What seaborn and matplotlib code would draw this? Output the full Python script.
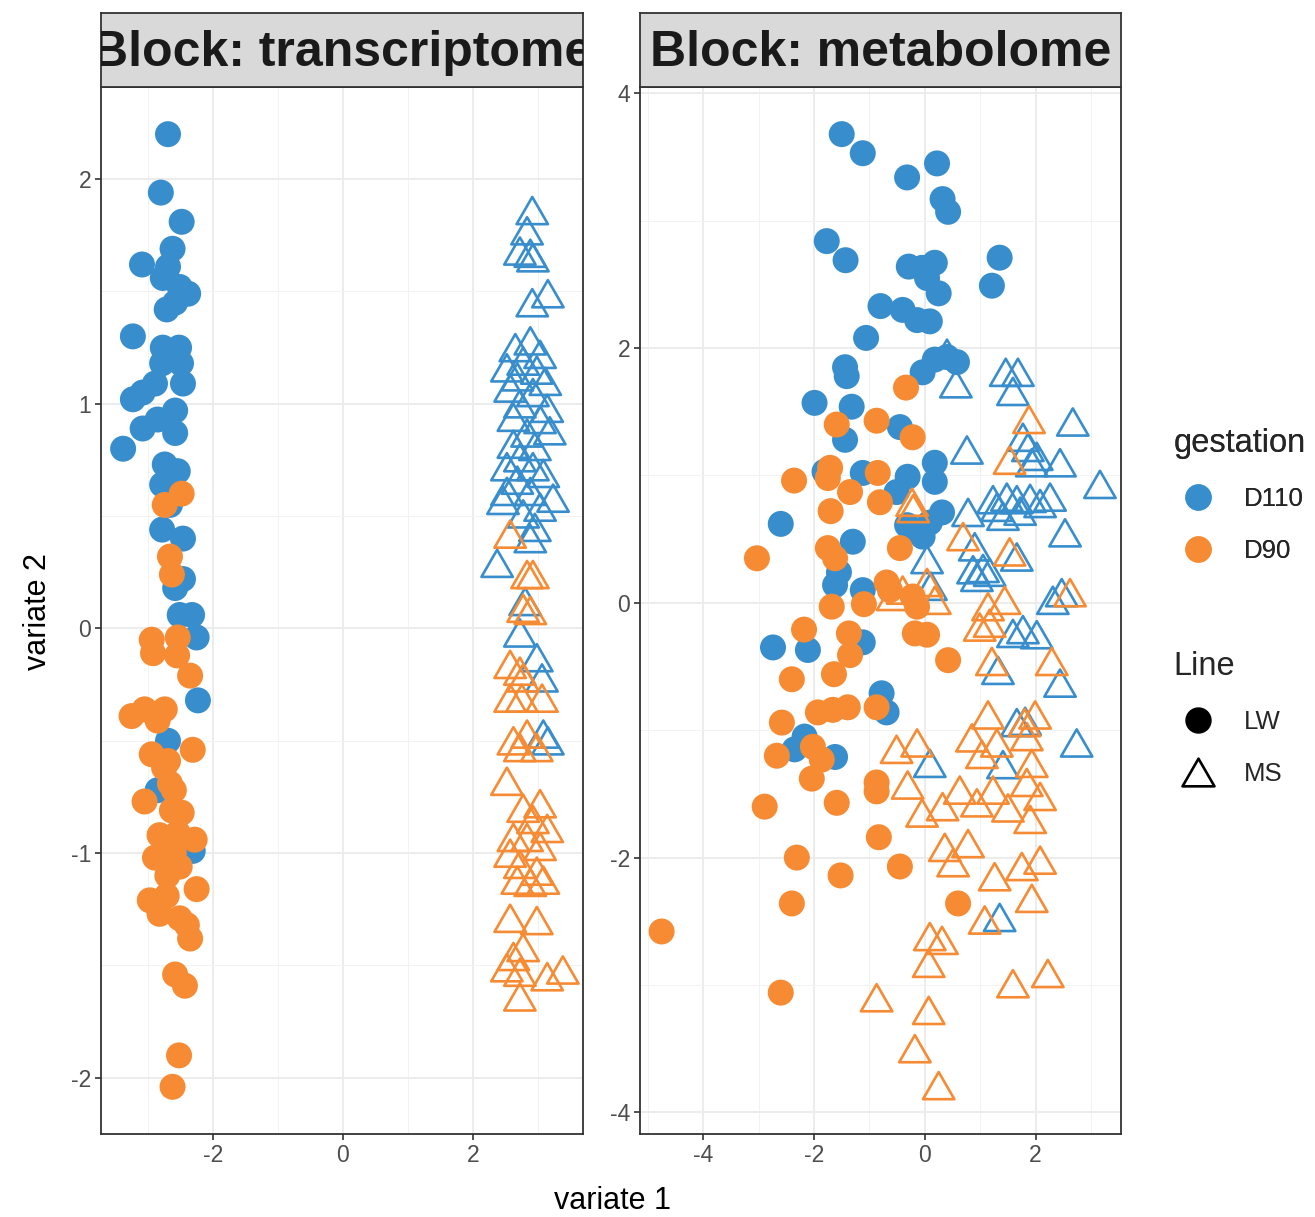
import numpy as np
import pandas as pd
import matplotlib
matplotlib.use("Agg")
import matplotlib.pyplot as plt
import seaborn as sns
from matplotlib.path import Path
from matplotlib.lines import Line2D

# ---------------- data (variate 1, variate 2) ----------------
# Block: transcriptome
tr_lw_d110 = [(-2.69, 2.20), (-2.80, 1.94), (-2.48, 1.81), (-2.62, 1.69), (-3.09, 1.62),
              (-2.69, 1.61), (-2.77, 1.56), (-2.38, 1.49), (-2.51, 1.52), (-2.71, 1.42),
              (-2.58, 1.45), (-3.23, 1.30), (-2.77, 1.25), (-2.52, 1.25), (-2.49, 1.18),
              (-2.78, 1.18), (-2.46, 1.09), (-2.89, 1.09), (-3.23, 1.02), (-3.08, 1.05),
              (-2.58, 0.97), (-3.08, 0.89), (-2.85, 0.93), (-2.58, 0.87), (-3.38, 0.80),
              (-2.74, 0.73), (-2.54, 0.70), (-2.78, 0.64), (-2.66, 0.55), (-2.78, 0.44),
              (-2.46, 0.40), (-2.46, 0.22), (-2.58, 0.18), (-2.51, 0.06), (-2.32, 0.06),
              (-2.25, -0.04), (-2.23, -0.32), (-2.69, -0.50), (-2.31, -0.99), (-2.85, -0.72)]
tr_lw_d90 = [(-2.48, 0.60), (-2.74, 0.55), (-2.66, 0.32), (-2.63, 0.24), (-2.94, -0.05),
             (-2.54, -0.04), (-2.92, -0.11), (-2.55, -0.12), (-2.35, -0.21), (-3.25, -0.39),
             (-3.05, -0.36), (-2.74, -0.36), (-2.85, -0.41), (-2.94, -0.56), (-2.31, -0.54),
             (-2.69, -0.59), (-2.66, -0.69), (-3.05, -0.77), (-2.48, -0.82), (-2.63, -0.81),
             (-2.82, -0.92), (-2.28, -0.94), (-2.54, -0.91), (-2.89, -1.02), (-2.51, -1.06),
             (-2.25, -1.16), (-2.97, -1.21), (-2.71, -1.19), (-2.82, -1.27), (-2.51, -1.29),
             (-2.35, -1.38), (-2.40, -1.32), (-2.58, -1.54), (-2.43, -1.59), (-2.52, -1.90),
             (-2.62, -2.04), (-2.75, -0.62), (-2.60, -0.72), (-2.70, -1.10), (-2.60, -1.00)]
tr_ms_d110 = [(2.91, 1.86), (2.83, 1.77), (2.72, 1.68), (2.88, 1.67), (2.92, 1.65),
              (3.15, 1.49), (2.91, 1.45), (2.88, 1.28), (2.65, 1.25), (3.03, 1.22),
              (2.77, 1.19), (2.52, 1.16), (2.98, 1.15), (2.68, 1.12), (3.11, 1.10),
              (2.57, 1.07), (2.92, 1.05), (2.72, 1.00), (3.14, 0.98), (2.62, 0.94),
              (3.03, 0.93), (3.18, 0.88), (2.83, 0.87), (2.62, 0.82), (2.95, 0.81),
              (2.72, 0.76), (2.52, 0.72), (2.92, 0.72), (3.08, 0.69), (2.68, 0.66),
              (2.52, 0.61), (2.88, 0.61), (3.23, 0.58), (2.46, 0.57), (3.03, 0.54),
              (2.77, 0.51), (2.95, 0.45), (2.88, 0.40), (2.37, 0.29), (2.80, 0.12),
              (2.72, -0.02), (2.98, -0.13), (3.06, -0.22), (3.08, -0.47), (3.15, -0.50)]
tr_ms_d90 = [(2.57, 0.42), (2.83, 0.24), (2.92, 0.24), (2.77, 0.09), (2.88, 0.08),
             (2.57, -0.16), (2.72, -0.19), (2.77, -0.22), (2.57, -0.31), (2.75, -0.31),
             (3.06, -0.31), (2.83, -0.47), (2.62, -0.50), (2.72, -0.53), (2.98, -0.53),
             (2.52, -0.68), (2.77, -0.80), (3.03, -0.78), (2.92, -0.85), (3.14, -0.89),
             (2.62, -0.93), (2.83, -0.93), (2.57, -1.00), (3.03, -0.97), (2.72, -1.05),
             (2.98, -1.08), (2.68, -1.12), (2.88, -1.13), (3.08, -1.12), (2.57, -1.29),
             (2.98, -1.30), (2.77, -1.42), (2.62, -1.46), (2.52, -1.51), (2.72, -1.53),
             (3.14, -1.55), (3.38, -1.52), (2.72, -1.64)]

# Block: metabolome
me_lw_d110 = [(-1.50, 3.68), (-1.12, 3.53), (-0.32, 3.34), (0.22, 3.45), (0.32, 3.17),
              (0.42, 3.07), (-1.77, 2.84), (-1.43, 2.69), (1.35, 2.71), (1.21, 2.49),
              (-0.29, 2.64), (-0.05, 2.63), (0.18, 2.67), (0.04, 2.55), (0.25, 2.43),
              (-0.80, 2.33), (-0.40, 2.30), (-0.14, 2.22), (0.09, 2.21), (-1.06, 2.08),
              (-1.44, 1.85), (-1.41, 1.78), (-0.04, 1.81), (0.18, 1.91), (0.58, 1.89),
              (0.40, 1.93), (-1.99, 1.57), (-1.32, 1.54), (-1.44, 1.28), (-1.81, 1.03),
              (-1.12, 1.02), (-2.60, 0.62), (-1.30, 0.48), (-1.55, 0.24), (-1.62, 0.14),
              (-1.12, 0.10), (-2.74, -0.35), (-2.11, -0.37), (-1.12, -0.31), (-0.78, -0.71),
              (-0.69, -0.86), (-2.17, -1.05), (-2.35, -1.15), (-1.62, -1.21), (-0.45, 1.38),
              (0.18, 1.10), (0.18, 0.95), (-0.31, 0.99), (-0.51, 0.87), (0.31, 0.71),
              (0.09, 0.63), (-0.22, 0.57), (-0.04, 0.52), (-0.32, 0.61)]
me_lw_d90 = [(-0.34, 1.69), (-1.59, 1.40), (-0.87, 1.43), (-2.36, 0.96), (-1.71, 1.06),
             (-1.75, 0.98), (-1.35, 0.87), (-0.85, 1.02), (-0.81, 0.79), (-1.70, 0.72),
             (-3.03, 0.35), (-1.75, 0.43), (-1.62, 0.35), (-0.69, 0.16), (-0.63, 0.10),
             (-1.68, -0.03), (-1.10, -0.01), (-2.18, -0.21), (-1.37, -0.24), (-1.35, -0.41),
             (-2.40, -0.60), (-1.64, -0.56), (-0.87, -0.82), (-1.93, -0.86), (-1.66, -0.84),
             (-1.39, -0.82), (-2.58, -0.94), (-2.67, -1.20), (-2.02, -1.13), (-1.86, -1.23),
             (-2.04, -1.38), (-0.87, -1.41), (-0.87, -1.48), (-2.89, -1.60), (-1.59, -1.57),
             (-0.83, -1.84), (-2.31, -2.00), (-1.52, -2.14), (-2.40, -2.36), (-4.75, -2.58),
             (-2.60, -3.06), (-0.45, -2.07), (0.60, -2.36), (-0.22, 1.30), (-0.45, 0.43),
             (-0.22, 0.05), (-0.14, -0.03), (-0.18, -0.24), (0.04, -0.25), (0.42, -0.45)]
me_ms_d110 = [(0.40, 1.96), (0.56, 1.72), (1.46, 1.81), (1.68, 1.81), (1.59, 1.66),
              (2.67, 1.42), (0.76, 1.20), (1.77, 1.30), (1.86, 1.22), (2.02, 1.15),
              (1.93, 1.10), (2.44, 1.10), (3.16, 0.93), (0.78, 0.71), (1.23, 0.81),
              (1.48, 0.83), (1.66, 0.81), (1.90, 0.82), (1.41, 0.68), (1.30, 0.75),
              (2.26, 0.83), (2.08, 0.78), (1.72, 0.72), (2.53, 0.55), (0.90, 0.44),
              (1.66, 0.36), (0.04, 0.34), (0.87, 0.26), (1.05, 0.27), (1.17, 0.24),
              (0.94, 0.20), (0.11, 0.13), (2.31, 0.02), (2.47, 0.08), (1.59, -0.24),
              (1.77, -0.21), (2.02, -0.25), (2.44, -0.63), (1.32, -0.53), (1.66, -0.94),
              (1.81, -0.93), (2.74, -1.10), (0.09, -1.26), (1.41, -1.27), (1.35, -2.47)]
me_ms_d90 = [(1.88, 1.44), (1.53, 1.12), (-0.23, 0.79), (-0.21, 0.74), (0.69, 0.52),
             (1.53, 0.40), (0.04, 0.16), (0.18, 0.02), (-0.40, 0.10), (-0.58, 0.05),
             (1.14, -0.03), (1.44, 0.02), (1.17, -0.16), (0.99, -0.19), (2.62, 0.08),
             (2.29, -0.46), (1.21, -0.46), (1.14, -0.88), (1.99, -0.88), (1.80, -0.94),
             (0.85, -1.06), (1.30, -1.10), (1.84, -1.05), (-0.51, -1.15), (-0.14, -1.10),
             (1.03, -1.19), (1.93, -1.26), (-0.31, -1.43), (0.63, -1.47), (1.23, -1.47),
             (1.84, -1.41), (2.08, -1.52), (0.32, -1.60), (0.94, -1.57), (1.50, -1.61),
             (-0.05, -1.65), (1.90, -1.70), (0.36, -1.92), (0.78, -1.89), (0.51, -2.04),
             (1.26, -2.15), (1.75, -2.07), (2.08, -2.02), (1.93, -2.32), (1.08, -2.49),
             (0.09, -2.62), (0.31, -2.65), (0.07, -2.83), (1.59, -2.99), (2.22, -2.91),
             (-0.87, -3.10), (0.07, -3.20), (-0.18, -3.50), (0.25, -3.79)]

blocks = ["transcriptome", "metabolome"]
gestation_levels = ["D110", "D90"]
line_levels = ["LW", "MS"]
palette = {"D110": "#388ECC", "D90": "#F68B33"}

groups = {
    ("transcriptome", "D110", "LW"): tr_lw_d110,
    ("transcriptome", "D110", "MS"): tr_ms_d110,
    ("transcriptome", "D90", "LW"): tr_lw_d90,
    ("transcriptome", "D90", "MS"): tr_ms_d90,
    ("metabolome", "D110", "LW"): me_lw_d110,
    ("metabolome", "D110", "MS"): me_ms_d110,
    ("metabolome", "D90", "LW"): me_lw_d90,
    ("metabolome", "D90", "MS"): me_ms_d90,
}
rows = []
for (blk, g, ln), pts in groups.items():
    for x, y in pts:
        rows.append({"block": blk, "gestation": g, "Line": ln, "x": x, "y": y})
df = pd.DataFrame(rows)

# ---------------- style ----------------
sns.set_theme(style="white")
plt.rcParams["font.family"] = ["Liberation Sans", "DejaVu Sans"]
plt.rcParams["axes.unicode_minus"] = False

W, H = 1315, 1217
fig = plt.figure(figsize=(W / 100, H / 100), dpi=100)

tri = Path([(0, 0.866), (-1, -0.866), (1, -0.866), (0, 0.866)], closed=True)

panels = {
    "transcriptome": dict(left=101, right=583, xlim=(-3.72, 3.69), ylim=(-2.25, 2.41),
                          xmaj=[-2, 0, 2], xmin=[-3, -1, 1, 3],
                          ymaj=[-2, -1, 0, 1, 2], ymin=[-1.5, -0.5, 0.5, 1.5]),
    "metabolome": dict(left=640, right=1121, xlim=(-5.14, 3.54), ylim=(-4.17, 4.05),
                       xmaj=[-4, -2, 0, 2], xmin=[-5, -3, -1, 1, 3],
                       ymaj=[-4, -2, 0, 2, 4], ymin=[-3, -1, 1, 3]),
}
top_px, bot_px, strip_top = 87, 1134, 13
border = "#333333"

for blk in blocks:
    p = panels[blk]
    ax = fig.add_axes([p["left"] / W, (H - bot_px) / H,
                       (p["right"] - p["left"]) / W, (bot_px - top_px) / H])
    ax.set_facecolor("white")
    sub_blk = df[df["block"] == blk]
    for g in gestation_levels:
        for ln in line_levels:
            sub = sub_blk[(sub_blk["gestation"] == g) & (sub_blk["Line"] == ln)]
            if ln == "LW":
                sns.scatterplot(data=sub, x="x", y="y", hue="gestation", palette=palette,
                                marker="o", s=350, linewidth=0, legend=False, ax=ax, zorder=3)
            else:
                sns.scatterplot(data=sub, x="x", y="y", hue="gestation", palette=palette,
                                marker=tri, s=510, legend=False, ax=ax, zorder=3)
                coll = ax.collections[-1]
                fc = coll.get_facecolors()
                coll.set_facecolor("none")
                coll.set_edgecolor(fc)
                coll.set_linewidth(1.9)
    ax.set_xlim(*p["xlim"])
    ax.set_ylim(*p["ylim"])
    ax.set_xticks(p["xmaj"])
    ax.set_xticks(p["xmin"], minor=True)
    ax.set_yticks(p["ymaj"])
    ax.set_yticks(p["ymin"], minor=True)
    ax.set_xticklabels([str(v) for v in p["xmaj"]])
    ax.set_yticklabels([str(v) for v in p["ymaj"]])
    ax.grid(True, which="major", color="#EBEBEB", linewidth=1.3, zorder=0)
    ax.grid(True, which="minor", color="#F2F2F2", linewidth=0.7, zorder=0)
    ax.set_axisbelow(True)
    ax.tick_params(axis="both", which="major", length=4, width=1.2, color=border,
                   labelsize=16.5, labelcolor="#4D4D4D", pad=3, direction="out",
                   bottom=True, left=True)
    ax.tick_params(axis="both", which="minor", length=0)
    ax.set_xlabel("")
    ax.set_ylabel("")
    for sp in ax.spines.values():
        sp.set_color(border)
        sp.set_linewidth(1.3)
        sp.set_visible(True)

    # facet strip
    sax = fig.add_axes([p["left"] / W, (H - top_px) / H,
                        (p["right"] - p["left"]) / W, (top_px - strip_top) / H])
    sax.set_facecolor("#D9D9D9")
    sax.set_xticks([])
    sax.set_yticks([])
    for sp in sax.spines.values():
        sp.set_color(border)
        sp.set_linewidth(1.3)
    sax.text(0.5, 0.46, f"Block: {blk}", transform=sax.transAxes, ha="center", va="center",
             fontsize=36, fontweight="bold", color="#1A1A1A", clip_on=True)

fig.text(612 / W, 1 - 1201 / H, "variate 1", ha="center", va="center", fontsize=22, color="black")
fig.text(38 / W, 1 - 612 / H, "variate 2", ha="center", va="center", rotation=90,
         fontsize=22, color="black")

# ---------------- legends ----------------
leg_kw = dict(loc="upper left", frameon=False, fontsize=18.5, title_fontsize=23.5,
              alignment="left", labelspacing=1.09, handletextpad=0.78,
              borderaxespad=0, handlelength=1.95)
h_gest = [Line2D([], [], marker="o", linestyle="", markersize=19, markeredgewidth=0,
                 color=palette[g]) for g in gestation_levels]
leg1 = fig.legend(h_gest, gestation_levels, title="gestation",
                  bbox_to_anchor=(1163 / W, 1 - 418 / H), **leg_kw)
fig.add_artist(leg1)
h_line = [Line2D([], [], marker="o", linestyle="", markersize=19, markeredgewidth=0, color="black"),
          Line2D([], [], marker=tri, linestyle="", markersize=23, markerfacecolor="none",
                 markeredgecolor="black", markeredgewidth=1.9)]
leg2 = fig.legend(h_line, line_levels, title="Line",
                  bbox_to_anchor=(1163 / W, 1 - 641 / H), **leg_kw)

fig.savefig("out.png", dpi=100, facecolor="white")
